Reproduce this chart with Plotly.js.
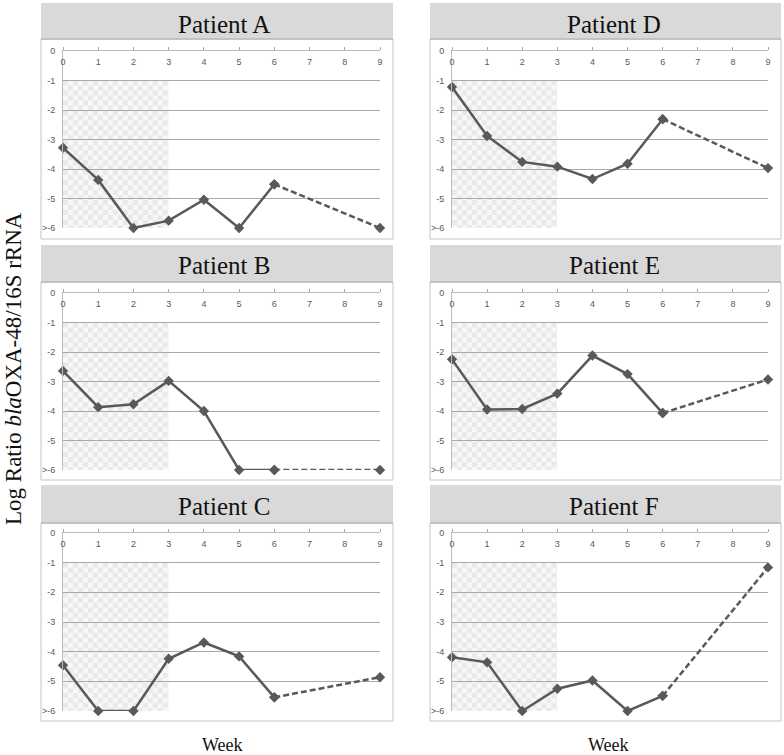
<!DOCTYPE html>
<html>
<head>
<meta charset="utf-8">
<script src="https://cdn.plot.ly/plotly-3.0.1.min.js"></script>
<style>html,body{margin:0;padding:0;background:#fff;}#chart{width:784px;height:755px;}</style>
</head>
<body>
<div id="chart"></div>
<script>
// ---- data ----
const weeks = [0, 1, 2, 3, 4, 5, 6, 9];
const patientA = [-3.28, -4.37, -6, -5.75, -5.04, -6, -4.52, -6];
const patientB = [-2.64, -3.87, -3.77, -2.98, -4.0, -6, -6, -6];
const patientC = [-4.46, -6, -6, -4.24, -3.69, -4.16, -5.54, -4.86];
const patientD = [-1.22, -2.88, -3.76, -3.92, -4.34, -3.82, -2.31, -3.97];
const patientE = [-2.25, -3.95, -3.93, -3.41, -2.12, -2.75, -4.07, -2.93];
const patientF = [-4.19, -4.36, -6, -5.25, -4.97, -6, -5.49, -1.16];
const patientNames = ["Patient A", "Patient B", "Patient C", "Patient D", "Patient E", "Patient F"];
const xTickVals = [0, 1, 2, 3, 4, 5, 6, 7, 8, 9];
const xTickText = ["0", "1", "2", "3", "4", "5", "6", "7", "8", "9"];
const yTickVals = [0, -1, -2, -3, -4, -5, -6];
const yTickText = ["0", "-1", "-2", "-3", "-4", "-5", ">-6"];
const treatmentWeeks = [0, 3];
const treatmentLevels = [-1, -6];
const xTitle = "Week";
const yTitle = "Log Ratio <i>bla</i>OXA-48/16S rRNA";

const series = [patientA, patientB, patientC, patientD, patientE, patientF];

// ---- layout geometry (pixels) ----
const W = 784, H = 755;
const fx = p => p / W;
const fy = p => 1 - p / H;
const colPlot = [[63, 380], [452, 768]];
const rowPlot = [[51, 228], [293, 470], [533, 711]];
const colBox = [[41, 393], [430, 781]];
const rowHead = [[3, 39], [245, 282], [485, 523]];
const rowBoxBottom = [239, 480, 721];
const titleX = [224, 614];
const titleY = [24, 265, 506];

const lineColor = "#595959";
const traces = [];
const layout = {
  width: W, height: H,
  margin: {l: 0, r: 0, t: 0, b: 0},
  paper_bgcolor: "#ffffff",
  plot_bgcolor: "rgba(0,0,0,0)",
  showlegend: false,
  shapes: [], annotations: [], images: []
};

const checkerSvg = "<svg xmlns='http://www.w3.org/2000/svg' width='106' height='148'><defs><pattern id='p' width='10' height='10' patternUnits='userSpaceOnUse'><rect width='10' height='10' fill='#f8f8f8'/><rect width='5' height='5' fill='#e9e9e9'/><rect x='5' y='5' width='5' height='5' fill='#e9e9e9'/></pattern></defs><rect width='106' height='148' fill='url(#p)'/></svg>";
const checkerSrc = "data:image/svg+xml;charset=utf-8," + encodeURIComponent(checkerSvg);

for (let i = 0; i < 6; i++) {
  const col = i < 3 ? 0 : 1;
  const row = i % 3;
  const n = i + 1;
  const xa = n === 1 ? "x" : "x" + n;
  const ya = n === 1 ? "y" : "y" + n;
  const xk = n === 1 ? "xaxis" : "xaxis" + n;
  const yk = n === 1 ? "yaxis" : "yaxis" + n;
  const vals = series[i];

  // box and header
  layout.shapes.push({type: "rect", xref: "paper", yref: "paper", layer: "below",
    x0: fx(colBox[col][0]), x1: fx(colBox[col][1]), y0: fy(rowHead[row][1]), y1: fy(rowBoxBottom[row]),
    fillcolor: "#ffffff", line: {color: "#c4c4c4", width: 1}});
  layout.shapes.push({type: "rect", xref: "paper", yref: "paper", layer: "below",
    x0: fx(colBox[col][0]), x1: fx(colBox[col][1]), y0: fy(rowHead[row][0]), y1: fy(rowHead[row][1]),
    fillcolor: "#d9d9d9", line: {width: 0}});
  layout.shapes.push({type: "line", xref: "paper", yref: "paper", layer: "below",
    x0: fx(colBox[col][0]), x1: fx(colBox[col][1]), y0: fy(rowHead[row][1]), y1: fy(rowHead[row][1]),
    line: {color: "#a8a8a8", width: 1}});

  layout.annotations.push({xref: "paper", yref: "paper", x: fx(titleX[col]), y: fy(titleY[row]),
    xanchor: "center", yanchor: "middle", showarrow: false, text: patientNames[i],
    font: {family: "Liberation Serif, Times New Roman, serif", size: 25, color: "#111111"}});

  // treatment shading
  layout.images.push({source: checkerSrc, xref: xa, yref: ya,
    x: treatmentWeeks[0], y: treatmentLevels[0],
    sizex: treatmentWeeks[1] - treatmentWeeks[0], sizey: treatmentLevels[0] - treatmentLevels[1],
    xanchor: "left", yanchor: "top", sizing: "stretch", layer: "below", opacity: 1});

  layout[xk] = {
    domain: [fx(colPlot[col][0]), fx(colPlot[col][1])],
    anchor: ya, side: "top", range: [0, 9],
    tickmode: "array", tickvals: xTickVals, ticktext: xTickText,
    ticks: "outside", ticklen: 3, tickcolor: "#a6a6a6",
    ticklabelposition: "inside", ticklabeloverflow: "allow", ticklabelstandoff: 7,
    showline: true, linecolor: "#bdbdbd", linewidth: 1,
    showgrid: false, zeroline: false, fixedrange: true,
    tickfont: {family: "Liberation Sans, Arial, sans-serif", size: 9, color: "#595959"}
  };
  layout[yk] = {
    domain: [fy(rowPlot[row][1]), fy(rowPlot[row][0])],
    anchor: xa, range: [-6, 0],
    tickmode: "array", tickvals: yTickVals, ticktext: yTickText,
    ticks: "", ticklabelstandoff: 5,
    showline: true, linecolor: "#bdbdbd", linewidth: 1,
    showgrid: true, gridcolor: "#a9a9a9", gridwidth: 1,
    zeroline: false, fixedrange: true,
    tickfont: {family: "Liberation Sans, Arial, sans-serif", size: 9, color: "#595959"}
  };

  traces.push({type: "scatter", mode: "lines+markers", xaxis: xa, yaxis: ya,
    x: weeks.slice(0, 7), y: vals.slice(0, 7), cliponaxis: false, hoverinfo: "skip",
    line: {color: lineColor, width: 2.5},
    marker: {symbol: "diamond", size: 8, color: lineColor}});
  traces.push({type: "scatter", mode: "lines+markers", xaxis: xa, yaxis: ya,
    x: weeks.slice(6), y: vals.slice(6), cliponaxis: false, hoverinfo: "skip",
    line: {color: lineColor, width: 2.5, dash: "6px,3px"},
    marker: {symbol: "diamond", size: 8, color: lineColor}});
}

// axis titles
layout.annotations.push({xref: "paper", yref: "paper", x: fx(222), y: fy(745),
  xanchor: "center", yanchor: "middle", showarrow: false, text: xTitle,
  font: {family: "Liberation Serif, Times New Roman, serif", size: 18, color: "#111111"}});
layout.annotations.push({xref: "paper", yref: "paper", x: fx(608), y: fy(745),
  xanchor: "center", yanchor: "middle", showarrow: false, text: xTitle,
  font: {family: "Liberation Serif, Times New Roman, serif", size: 18, color: "#111111"}});
layout.annotations.push({xref: "paper", yref: "paper", x: fx(13), y: fy(369),
  xanchor: "center", yanchor: "middle", showarrow: false, textangle: -90, text: yTitle,
  font: {family: "Liberation Serif, Times New Roman, serif", size: 23, color: "#111111"}});

Plotly.newPlot("chart", traces, layout, {displayModeBar: false, staticPlot: true});
</script>
</body>
</html>
